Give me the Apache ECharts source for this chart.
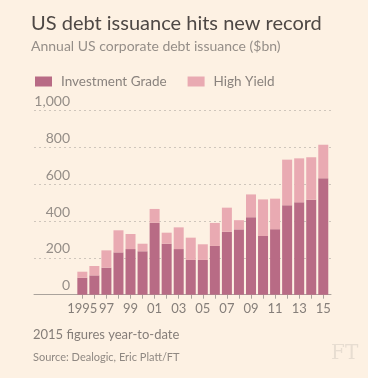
<!DOCTYPE html>
<html>
<head>
<meta charset="utf-8">
<script src="https://cdn.jsdelivr.net/npm/echarts@6/dist/echarts.min.js"></script>
<style>
html,body{margin:0;padding:0;background:#fdf1e3;}
#c{width:368px;height:378px;}
</style>
</head>
<body>
<div id="c"></div>
<script>
const years = ['1995','1996','1997','1998','1999','2000','2001','2002','2003','2004','2005','2006','2007','2008','2009','2010','2011','2012','2013','2014','2015'];
const yearLabels = ['1995','96','97','98','99','00','01','02','03','04','05','06','07','08','09','10','11','12','13','14','15'];
const investmentGrade = [92,105,147,230,248,236,391,277,248,189,189,265,342,355,421,319,356,486,502,516,633];
const highYield = [33,51,94,120,82,41,75,60,118,121,85,125,131,50,124,199,166,248,239,231,182];
const yTicks = [0,200,400,600,800,1000];

const labelFont = 'Lato, "Open Sans", sans-serif';
const chart = echarts.init(document.getElementById('c'), null, {renderer:'canvas'});
chart.setOption({
  backgroundColor:'#fdf1e3',
  animation:false,
  title:{
    text:'US debt issuance hits new record',
    subtext:'Annual US corporate debt issuance ($bn)',
    left:31, top:14, itemGap:5, padding:0,
    textStyle:{fontFamily:labelFont,fontWeight:'normal',fontSize:20,color:'#4e4845'},
    subtextStyle:{fontFamily:labelFont,fontSize:14,color:'#958e88'}
  },
  legend:{
    left:35, top:74.5, padding:0, itemWidth:17, itemHeight:10, itemGap:21, icon:'rect',
    textStyle:{fontFamily:labelFont,fontSize:13.5,color:'#8a837e',padding:[0,0,0,4]},
    data:['Investment Grade','High Yield']
  },
  grid:[
    {left:34, right:37, top:110.7, height:184, containLabel:false},
    {left:76.3, width:253, top:110.7, height:184, containLabel:false}
  ],
  xAxis:[
    {gridIndex:0, type:'value', min:0, max:1, axisLabel:{show:false}, axisTick:{show:false}, splitLine:{show:false},
     axisLine:{show:true,lineStyle:{color:'#aaa39c',width:1}}},
    {gridIndex:1, type:'category', data:years, boundaryGap:true,
     axisLine:{show:false},
     axisTick:{show:true,alignWithLabel:true,interval:0,length:4,lineStyle:{color:'#aaa39c'}},
     axisLabel:{interval:function(i){return i%2===0;}, hideOverlap:false, margin:8,
       fontFamily:labelFont, fontSize:13, color:'#857e79',
       formatter:function(v,i){return yearLabels[i];}}}
  ],
  yAxis:[
    {gridIndex:0, type:'value', min:yTicks[0], max:yTicks[yTicks.length-1], interval:200,
     axisLine:{show:false}, axisTick:{show:false},
     axisLabel:{inside:true, align:'right', margin:36, verticalAlign:'bottom', padding:[0,0,2,0],
       fontFamily:labelFont, fontSize:14, color:'#958e88',
       formatter:function(v){return v.toLocaleString('en-US');}},
     splitLine:{show:true,lineStyle:{color:'#cfc6bc',type:[2,3],width:1}}},
    {gridIndex:1, type:'value', min:0, max:1000, show:false, splitLine:{show:false}}
  ],
  series:[
    {name:'Investment Grade', type:'bar', stack:'a', xAxisIndex:1, yAxisIndex:1, barWidth:10,
     itemStyle:{color:'#b86b85'}, data:investmentGrade, z:3},
    {name:'High Yield', type:'bar', stack:'a', xAxisIndex:1, yAxisIndex:1, barWidth:10,
     itemStyle:{color:'#e9aab2'}, data:highYield, z:3}
  ],
  graphic:[
    {type:'text', left:33, top:328, style:{text:'2015 figures year-to-date', font:'13px '+labelFont, fill:'#857e79'}},
    {type:'text', left:33, top:352, style:{text:'Source: Dealogic, Eric Platt/FT', font:'11px '+labelFont, fill:'#8f8882'}},
    {type:'text', left:331, top:344, style:{text:'FT', font:'20px "DejaVu Serif", "Liberation Serif", serif', fill:'#e7ddd1'}}
  ]
});
</script>
</body>
</html>
